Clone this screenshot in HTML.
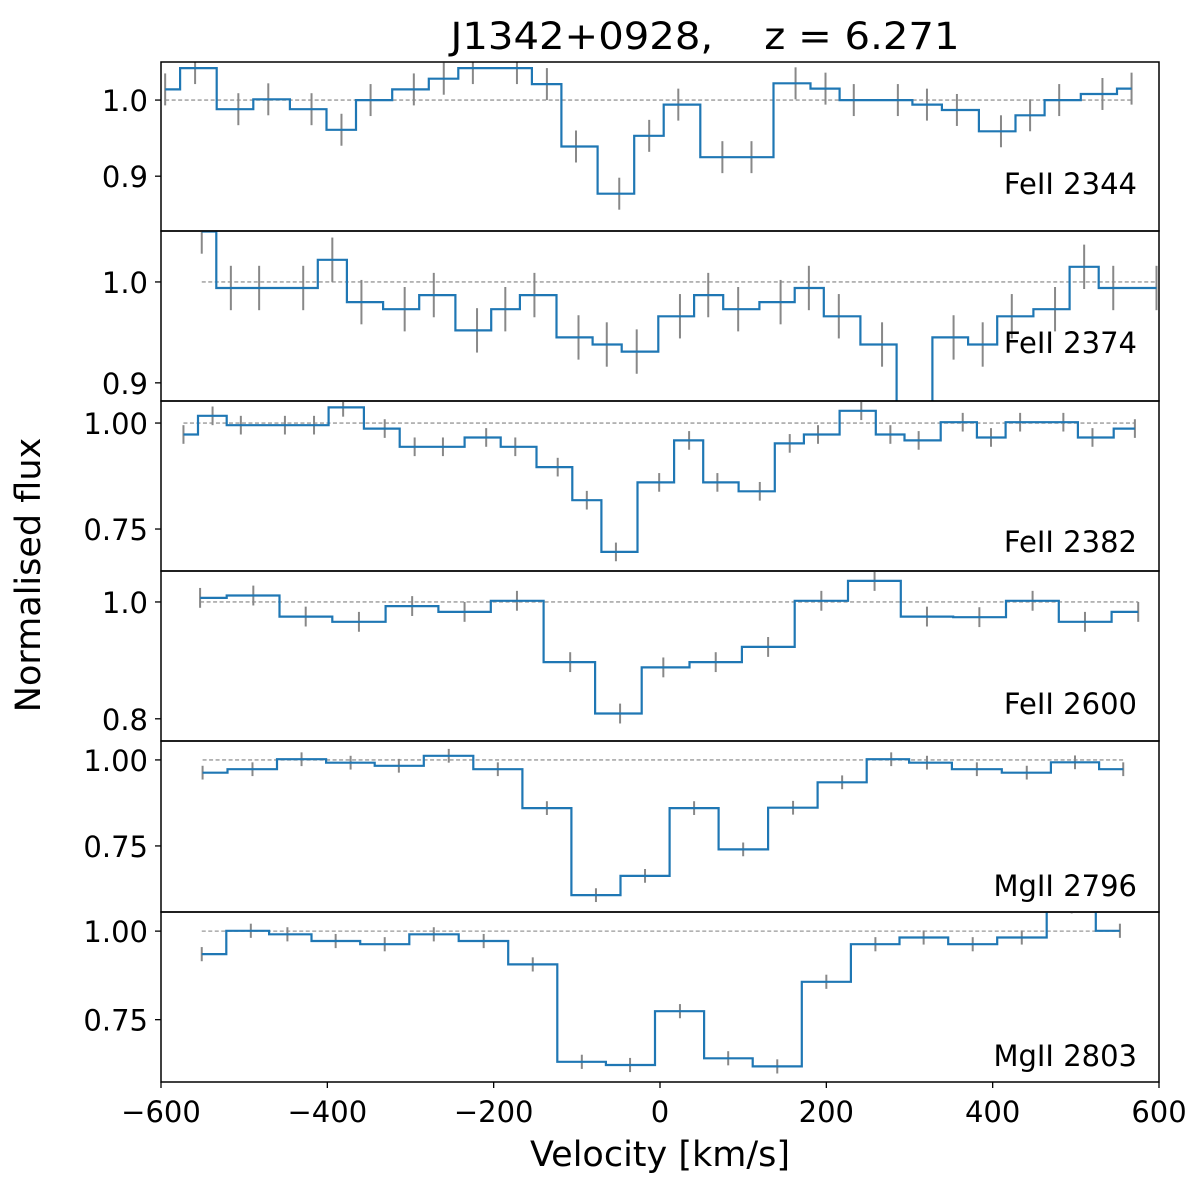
<!DOCTYPE html>
<html><head><meta charset="utf-8"><style>
html,body{margin:0;padding:0;background:#fff}
svg{display:block;font-family:"DejaVu Sans","Liberation Sans",sans-serif}
</style></head><body>
<svg id="chart" width="1200" height="1189" viewBox="0 0 1200 1189" xmlns="http://www.w3.org/2000/svg">
<text x="705" y="49" font-size="37" text-anchor="middle" textLength="509" lengthAdjust="spacingAndGlyphs" xml:space="preserve">J1342+0928,    z = 6.271</text>
<text transform="translate(40,575) rotate(-90)" font-size="35" text-anchor="middle">Normalised flux</text>
<text x="660" y="1166" font-size="35" text-anchor="middle">Velocity [km/s]</text>
<g id="panels"></g>
</svg>
<script>
// ---- data ----
const ionLabels = ["FeII 2344","FeII 2374","FeII 2382","FeII 2600","MgII 2796","MgII 2803"];
const vel1 = [-595,-559,-507,-471,-419,-383,-348,-296,-260,-225,-172,-136,-101,-49,-13,22,75,110,163,199,233,286,321,357,410,445,480,532,567];
const flux1 = [1.014,1.042,0.988,1.001,0.988,0.961,1.0,1.014,1.028,1.042,1.042,1.021,0.939,0.877,0.953,0.994,0.925,0.925,1.022,1.015,1.0,1.0,0.994,0.987,0.959,0.980,1.0,1.008,1.015];
const vel2 = [-551,-516,-482,-429,-394,-359,-307,-272,-220,-186,-151,-98,-64,-28,24,58,94,145,179,215,267,302,353,388,423,475,510,545,597];
const flux2 = [1.050,0.994,0.994,0.994,1.022,0.980,0.973,0.987,0.952,0.973,0.987,0.945,0.938,0.931,0.966,0.987,0.973,0.980,0.994,0.966,0.938,0.86,0.945,0.938,0.966,0.973,1.015,0.994,0.994];
const vel3 = [-573,-538,-504,-451,-416,-381,-331,-295,-261,-209,-174,-123,-88,-53,-1,35,69,120,156,190,242,277,311,364,398,433,485,520,571];
const flux3 = [0.973,1.017,0.995,0.995,0.995,1.037,0.987,0.944,0.944,0.966,0.944,0.896,0.818,0.696,0.860,0.959,0.860,0.839,0.952,0.973,1.029,0.973,0.959,1.002,0.966,1.002,1.002,0.966,0.987];
const vel4 = [-553,-489,-426,-362,-298,-235,-172,-108,-48,4,67,130,194,258,321,384,448,511,575];
const flux4 = [1.007,1.011,0.975,0.966,0.993,0.983,1.002,0.897,0.809,0.888,0.897,0.923,1.002,1.036,0.975,0.974,1.002,0.966,0.983];
const vel5 = [-550,-490,-431,-372,-314,-254,-195,-136,-77,-18,41,100,160,219,278,321,381,441,499,557];
const flux5 = [0.963,0.973,1.002,0.992,0.983,1.012,0.973,0.860,0.607,0.663,0.860,0.740,0.861,0.935,1.002,0.992,0.973,0.963,0.993,0.973];
const vel6 = [-551,-492,-448,-390,-331,-272,-212,-153,-94,-36,24,82,141,200,259,317,376,435,495,553];
const flux6 = [0.935,1.001,0.991,0.972,0.963,0.991,0.972,0.906,0.631,0.622,0.774,0.641,0.618,0.857,0.963,0.982,0.963,0.982,1.07,1.001];
const errs = [0.021,0.022,0.022,0.017,0.02,0.02];
const xTicks = [-600,-400,-200,0,200,400,600];
const yTicks1 = [0.9,1.0], yTicks2 = [0.9,1.0], yTicks3 = [0.75,1.00], yTicks4 = [0.8,1.0], yTicks5 = [0.75,1.00], yTicks6 = [0.75,1.00];
const yTickLabels1 = ["0.9","1.0"], yTickLabels2 = ["0.9","1.0"], yTickLabels3 = ["0.75","1.00"], yTickLabels4 = ["0.8","1.0"], yTickLabels5 = ["0.75","1.00"], yTickLabels6 = ["0.75","1.00"];
const yDomains = [[0.828,1.05],[0.882,1.0505],[0.651,1.052],[0.762,1.053],[0.558,1.055],[0.574,1.054]];

// ---- layout ----
const vels=[vel1,vel2,vel3,vel4,vel5,vel6], fluxes=[flux1,flux2,flux3,flux4,flux5,flux6];
const yts=[yTicks1,yTicks2,yTicks3,yTicks4,yTicks5,yTicks6];
const ytl=[yTickLabels1,yTickLabels2,yTickLabels3,yTickLabels4,yTickLabels5,yTickLabels6];
const tops=[62,231,401,571,741,912], bottoms=[231,401,571,741,912,1082];
const labelY=[194,353,552,714,896,1066];
const X0=161,X1=1159;
const NS="http://www.w3.org/2000/svg";
const g=document.getElementById('panels');
function xs(v){return X0+(v+600)/1200*(X1-X0);}
function mk(t,a,p){const e=document.createElementNS(NS,t);for(const k in a)e.setAttribute(k,a[k]);(p||g).appendChild(e);return e;}
for(let i=0;i<6;i++){
  const top=tops[i],bot=bottoms[i],d=yDomains[i];
  const ys=f=>bot-(f-d[0])/(d[1]-d[0])*(bot-top);
  const pg=mk('g',{});
  
  
  const cp=mk('clipPath',{id:'cp'+i},pg);
  mk('rect',{x:X0,y:top,width:X1-X0,height:bot-top},cp);
  const v=vels[i],f=fluxes[i];
  const dl=mk('line',{x1:xs(v[0]),x2:xs(v[v.length-1]),y1:ys(1),y2:ys(1),stroke:'#999',"stroke-width":1.3,"stroke-dasharray":"4,2.5","clip-path":`url(#cp${i})`},pg);
  
  
  let dpath='';
  for(let j=0;j<v.length;j++){
    const xl=j==0?xs(v[0]):xs((v[j-1]+v[j])/2);
    const xr=j==v.length-1?xs(v[j]):xs((v[j]+v[j+1])/2);
    const y=ys(f[j]);
    dpath+=(j==0?'M':'L')+xl.toFixed(1)+','+y.toFixed(1)+'L'+xr.toFixed(1)+','+y.toFixed(1);
  }
  const eg=mk('g',{"clip-path":`url(#cp${i})`},pg);
  for(let j=0;j<v.length;j++){
    const eb=mk('line',{x1:xs(v[j]),x2:xs(v[j]),y1:ys(f[j]-errs[i]),y2:ys(f[j]+errs[i]),stroke:'#888',"stroke-width":2},eg);
    
    
  }
  const sp=mk('path',{d:dpath,fill:'none',stroke:'#1f77b4',"stroke-width":2.2,"clip-path":`url(#cp${i})`},pg);
  
  
  const fr=mk('rect',{x:X0,y:top,width:X1-X0,height:bot-top,fill:'none',stroke:'#000',"stroke-width":1.5},pg);
  
  
  for(let k=0;k<yts[i].length;k++){
    const y=ys(yts[i][k]);
    mk('line',{x1:X0-6,x2:X0,y1:y,y2:y,stroke:'#000',"stroke-width":1.3},pg);
    const t=mk('text',{x:X0-13,y:y+11,"font-size":29,"text-anchor":"end"},pg);
    
    
    t.textContent=ytl[i][k];
  }
  const lb=mk('text',{x:1137,y:labelY[i],"font-size":29,"text-anchor":"end"},pg);
  
  
  lb.textContent=ionLabels[i];
}
for(const t of xTicks){
  const x=xs(t);
  mk('line',{x1:x,x2:x,y1:1082,y2:1088,stroke:'#000',"stroke-width":1.3});
  const tx=mk('text',{x:x,y:1122,"font-size":29,"text-anchor":"middle"});
  
  
  tx.textContent=(t<0?'\u2212':'')+Math.abs(t);
}
</script>
</body></html>
